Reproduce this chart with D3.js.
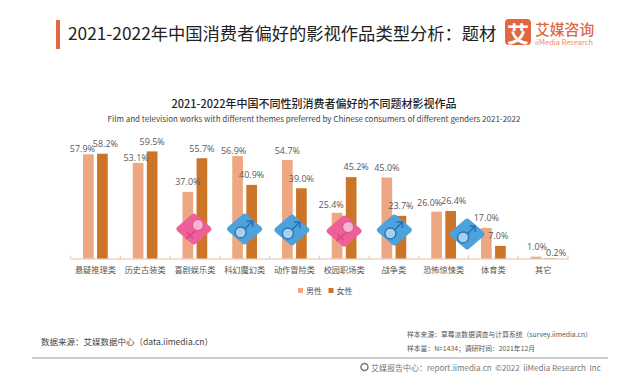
<!DOCTYPE html>
<html>
<head>
<meta charset="utf-8">
<script src="https://d3js.org/d3.v7.min.js"></script>
<style>
  html, body { margin: 0; padding: 0; background: #fff; }
  svg { display: block; }
  text { font-family: "Noto Sans CJK SC", "Open Sans", sans-serif; }
</style>
</head>
<body>
<div id="chart"></div>
<script>
const categories = ["悬疑推理类", "历史古装类", "喜剧娱乐类", "科幻魔幻类", "动作冒险类", "校园职场类", "战争类", "恐怖惊悚类", "体育类", "其它"];
const seriesNames = ["男性", "女性"];
const maleValues = [57.9, 53.1, 37.0, 56.9, 54.7, 25.4, 45.0, 26.0, 17.0, 1.0];
const femaleValues = [58.2, 59.5, 55.7, 40.9, 39.0, 45.2, 23.7, 26.4, 7.0, 0.2];

// The value labels were moved by hand in the original, so keep those nudges apart from the data
const maleLabelNudge = [[-6, -6], [-2, -5], [0, -10], [-4, -6], [0, -10], [-6, -8], [0, -10], [-7, -9], [0, -10], [1, -10]];
const femaleLabelNudge = [[3, -10], [0, -10], [0, -10], [0, -10], [0, -10], [5, -11], [0, -10], [3, -10], [-2, -10], [6, -6]];

const iconCategories = ["喜剧娱乐类", "科幻魔幻类", "动作冒险类", "校园职场类", "战争类", "恐怖惊悚类"];
const iconGenders = ["f", "m", "m", "f", "m", "m"];
const iconNudge = [[-1, 229], [0, 229], [-2.5, 230], [0, 231], [0.5, 230], [23.5, 234]];

const colors = { "男性": "#EDA782", "女性": "#CC7528" };
const width = 640, height = 380;

const svg = d3.select("#chart").append("svg").attr("width", width).attr("height", height);

function label(x, y, str, size, fill, opts = {}) {
    return svg.append("text").attr("x", x).attr("y", y)
        .attr("text-anchor", opts.anchor || "start")
        .attr("dominant-baseline", "central")
        .attr("fill", fill)
        .style("font-size", size + "px")
        .style("font-weight", opts.weight || 400)
        .text(str);
}

// Header
svg.append("rect").attr("x", 56).attr("y", 20).attr("width", 4).attr("height", 29).attr("fill", "#E0673F");
label(68, 32, "2021-2022年中国消费者偏好的影视作品类型分析：题材", 17.3, "#222");

// Logo
svg.append("rect").attr("x", 505).attr("y", 19).attr("width", 26).attr("height", 26).attr("rx", 4).attr("fill", "#E0673F");
label(518, 32, "艾", 22, "#fff", { anchor: "middle", weight: 700 });
label(535, 28, "艾媒咨询", 14.8, "#E0673F", { weight: 500 });
label(535, 41.5, "iiMedia Research", 7.4, "#E98A68");

// Chart titles
label(314, 103, "2021-2022年中国不同性别消费者偏好的不同题材影视作品", 11, "#222", { anchor: "middle", weight: 500 });
label(314, 118, "Film and television works with different themes preferred by Chinese consumers of different genders 2021-2022", 8, "#444", { anchor: "middle" });

// Scales
const x0 = d3.scaleBand().domain(categories).range([70.5, 568]);
const x1 = d3.scaleBand().domain(seriesNames).range([0, x0.bandwidth()]).paddingInner(0.24).paddingOuter(0.89);
const y = d3.scaleLinear().domain([0, 60]).range([258.5, 150.5]);

// Axis, ticks sit on the band edges so they are added by hand
const axisG = svg.append("g").attr("transform", `translate(0,${y(0)})`)
    .call(d3.axisBottom(x0).tickSize(0).tickPadding(9));
axisG.select(".domain").attr("stroke", "#E3BE9F");
axisG.selectAll("text").attr("fill", "#555").style("font-size", "8.2px");
svg.append("g").selectAll("line").data(categories.concat("end")).join("line")
    .attr("x1", d => d === "end" ? x0.range()[1] : x0(d))
    .attr("x2", d => d === "end" ? x0.range()[1] : x0(d))
    .attr("y1", y(0) - 3).attr("y2", y(0))
    .attr("stroke", "#E3BE9F");

// Bars and value labels
const rows = categories.map((c, i) => ({ c, i, m: maleValues[i], f: femaleValues[i] }));
const groups = svg.append("g").selectAll("g").data(rows).join("g")
    .attr("transform", d => `translate(${x0(d.c)},0)`);
const parts = d => [
    { name: "男性", val: d.m, nudge: maleLabelNudge[d.i] },
    { name: "女性", val: d.f, nudge: femaleLabelNudge[d.i] }
];
groups.selectAll("rect").data(parts).join("rect")
    .attr("x", d => x1(d.name)).attr("width", x1.bandwidth())
    .attr("y", d => y(d.val)).attr("height", d => y(0) - y(d.val))
    .attr("fill", d => colors[d.name]);
groups.selectAll("text").data(parts).join("text")
    .attr("x", d => x1(d.name) + x1.bandwidth() / 2 + d.nudge[0])
    .attr("y", d => y(d.val) + d.nudge[1])
    .attr("text-anchor", "middle").attr("dominant-baseline", "central")
    .attr("fill", "#595959").style("font-family", "'Open Sans', sans-serif").style("font-size", "9px")
    .text(d => d.val.toFixed(1) + "%");

// Gender badges over the bars
const diamond = d3.line().curve(d3.curveLinearClosed);
iconCategories.forEach((c, i) => {
    const female = iconGenders[i] === "f";
    const main = female ? "#EE6098" : "#4CA3DC";
    const dark = female ? "#DC4A85" : "#2A70B2";
    const light = female ? "#F6B4CE" : "#A9CFF0";
    const g = svg.append("g").attr("transform", `translate(${x0(c) + x0.bandwidth() / 2 + iconNudge[i][0]},${iconNudge[i][1]})`);
    g.append("path").attr("d", diamond([[-15, 0], [0, -13], [15, 0], [0, 13]]))
        .attr("fill", main).attr("stroke", main).attr("stroke-width", 5).attr("stroke-linejoin", "round");
    if (female) {
        g.append("path").attr("d", "M1.5,2 L-8,10 M-7,3 L-1,9").attr("stroke", dark).attr("stroke-width", 1.8).attr("fill", "none");
        g.append("circle").attr("cx", 4).attr("cy", -4).attr("r", 5.5).attr("fill", light).attr("stroke", dark).attr("stroke-width", 1);
    } else {
        g.append("path").attr("d", "M0,0 L7,-7 M2,-8 L8,-8 L8,-2").attr("stroke", dark).attr("stroke-width", 1.6).attr("fill", "none");
        g.append("circle").attr("cx", -4).attr("cy", 3.5).attr("r", 5.5).attr("fill", light).attr("stroke", dark).attr("stroke-width", 1.3);
    }
});

// Legend
seriesNames.forEach((s, i) => {
    const lx = 298 + i * 30.5;
    svg.append("rect").attr("x", lx).attr("y", 288).attr("width", 5).attr("height", 5).attr("fill", colors[s]);
    label(lx + 8, 290.5, s, 8, "#555");
});

// Footer
label(41, 341, "数据来源：艾媒数据中心（data.iimedia.cn）", 8.5, "#444");
label(407, 334, "样本来源：草莓派数据调查与计算系统（survey.iimedia.cn）", 6.8, "#555");
label(407, 348, "样本量：N=1434；调研时间：2021年12月", 6.8, "#555");
svg.append("line").attr("x1", 32).attr("x2", 608).attr("y1", 358).attr("y2", 358).attr("stroke", "#999").attr("stroke-width", 1.2);
svg.append("circle").attr("cx", 364.5).attr("cy", 367).attr("r", 3.5).attr("fill", "none").attr("stroke", "#777").attr("stroke-width", 1.5);
label(371, 367, "艾媒报告中心：report.iimedia.cn  ©2022  iiMedia Research  Inc", 8, "#777").style("white-space", "pre");
</script>
</body>
</html>
